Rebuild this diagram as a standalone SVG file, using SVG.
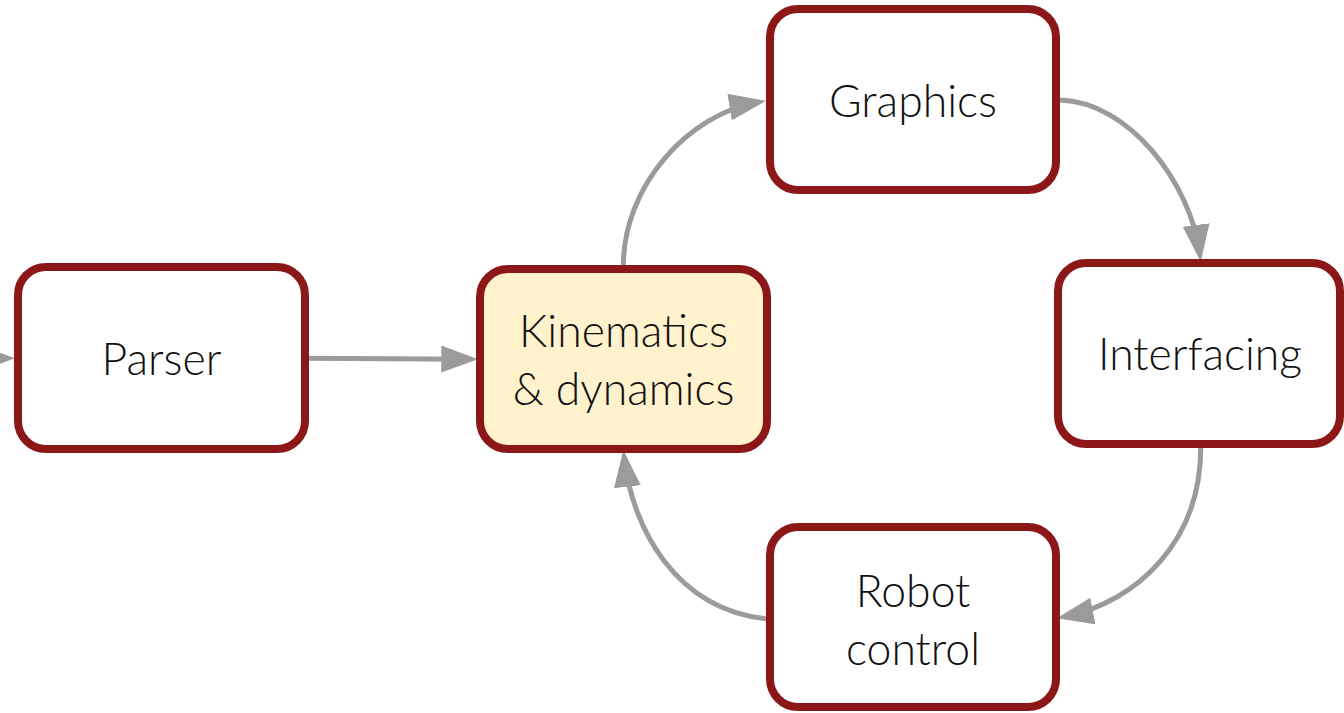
<svg xmlns="http://www.w3.org/2000/svg" width="1344" height="713" viewBox="0 0 1344 713">
  <style>
    .box { fill: #ffffff; stroke: #8c1718; stroke-width: 8; }
    .hl { fill: #fff2cc; }
    .label { font-family: "Lato", "Liberation Sans", sans-serif; font-weight: 300; font-size: 44.5px; fill: #111111; text-anchor: middle; }
    .edge { fill: none; stroke: #9b9b9b; stroke-width: 5; marker-end: url(#arrow); }
  </style>
  <defs>
    <marker id="arrow" markerUnits="userSpaceOnUse" markerWidth="37" markerHeight="27" refX="29" refY="13.5" orient="auto" viewBox="0 0 37 27">
      <path d="M0,0 L37,13.5 L0,27 Z" fill="#9b9b9b"/>
    </marker>
  </defs>

  <!-- connectors -->
  <g id="connectors">
    <path class="edge" d="M-60,358.3 L7,358.3"/>
    <path class="edge" d="M305,358.3 L470.3,359.2"/>
    <path class="edge" d="M623.3,267 C623,185 689,114 758.1,102.1"/>
    <path class="edge" d="M1060,100 C1130,102 1191,184.4 1199.7,253.8"/>
    <path class="edge" d="M1200.7,445 C1202,540 1138,602 1064.5,616.7"/>
    <path class="edge" d="M768,619 C675,610 632,527 624.2,457.9"/>
  </g>

  <!-- nodes -->
  <g id="parser">
    <rect class="box" x="18" y="267" width="287" height="182" rx="28"/>
    <text class="label" x="161.5" y="375">Parser</text>
  </g>
  <g id="kinematics">
    <rect class="box hl" x="480" y="269" width="287" height="180" rx="28"/>
    <text class="label" x="623.5" y="347">Kinematics</text>
    <text class="label" x="623.5" y="405">&amp; dynamics</text>
  </g>
  <g id="graphics">
    <rect class="box" x="770" y="9" width="286" height="181" rx="28"/>
    <text class="label" x="913" y="117">Graphics</text>
  </g>
  <g id="interfacing">
    <rect class="box" x="1058" y="263" width="282" height="181" rx="28"/>
    <text class="label" x="1200" y="370">Interfacing</text>
  </g>
  <g id="robot-control">
    <rect class="box" x="770" y="527" width="286" height="180" rx="28"/>
    <text class="label" x="913" y="607">Robot</text>
    <text class="label" x="913" y="665">control</text>
  </g>
</svg>
